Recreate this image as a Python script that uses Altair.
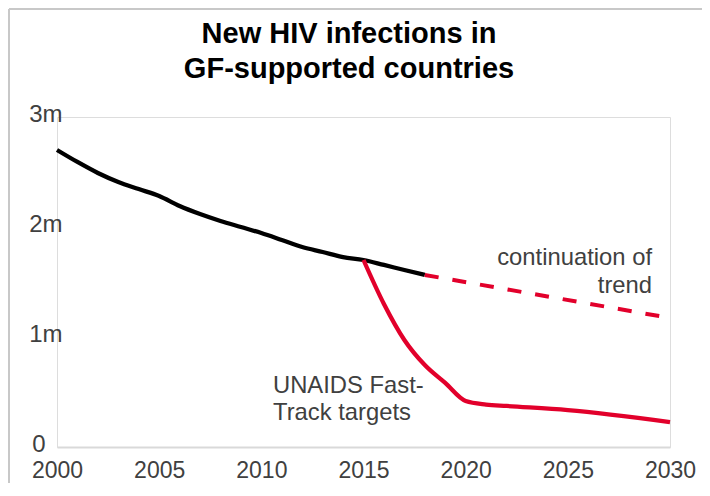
import altair as alt
import pandas as pd

# ---- data (values in millions) ----
hist_years = list(range(2000, 2019))
hist_values = [2.700, 2.591, 2.491, 2.409, 2.345, 2.282, 2.191, 2.118, 2.055, 2.000,
               1.945, 1.882, 1.818, 1.773, 1.727, 1.700, 1.655, 1.609, 1.564]
target_years = [2015, 2016, 2017, 2018, 2019, 2020, 2021, 2022, 2025, 2030]
target_values = [1.700, 1.300, 0.973, 0.745, 0.582, 0.418, 0.386, 0.373, 0.336, 0.227]
trend_years = [2018, 2030]
trend_values = [1.564, 1.173]

x_ticks = [2000, 2005, 2010, 2015, 2020, 2025, 2030]
y_ticks = [0, 1, 2, 3]
y_tick_labels = ["0", "1m", "2m", "3m"]
title_lines = ["New HIV infections in", "GF-supported countries"]
trend_label = ["continuation of", "trend"]
target_label = ["UNAIDS Fast-", "Track targets"]

FONT = "Liberation Sans"
RED = "#E2002B"
TXT = "#404040"
FRAME = "#c8c8c8"

hist = pd.DataFrame({"year": hist_years, "value": hist_values})
target = pd.DataFrame({"year": target_years, "value": target_values})
trend = pd.DataFrame({"year": trend_years, "value": trend_values})

label_expr = "[" + ",".join('"%s"' % s for s in y_tick_labels) + "][datum.value]"

x_enc = alt.X("year:Q",
              scale=alt.Scale(domain=[2000, 2030], nice=False, zero=False),
              axis=alt.Axis(values=x_ticks, format="d", title=None, grid=False, ticks=False,
                            domainColor="#d9d9d9", domainWidth=2,
                            labelFontSize=23, labelColor=TXT, labelFont=FONT,
                            labelPadding=12, labelFlush=False))
y_enc = alt.Y("value:Q",
              scale=alt.Scale(domain=[0, 3], nice=False),
              axis=alt.Axis(values=y_ticks, labelExpr=label_expr, title=None, grid=False,
                            ticks=False, domain=False,
                            labelFontSize=24, labelColor=TXT, labelFont=FONT,
                            labelAlign="right", labelOffset=-3,
                            labelPadding={"condition": {"test": "datum.value == 0", "value": 12},
                                          "value": -5}))

one = alt.Data(values=[{}])

# outer frame: only the top and left edges are visible in the reference
frame_top = alt.Chart(one).mark_rule(color=FRAME, strokeWidth=2).encode(
    x=alt.value(-48), x2=alt.value(700), y=alt.value(-108))
frame_left = alt.Chart(one).mark_rule(color=FRAME, strokeWidth=2).encode(
    x=alt.value(-48), y=alt.value(-108), y2=alt.value(500))

black = alt.Chart(hist).mark_line(color="black", strokeWidth=4.3, interpolate="monotone").encode(
    x=x_enc, y=y_enc)
red = alt.Chart(target).mark_line(color=RED, strokeWidth=4.3, interpolate="monotone").encode(
    x="year:Q", y="value:Q")
dashed = alt.Chart(trend).mark_line(color=RED, strokeWidth=4, strokeDash=[14, 14]).encode(
    x="year:Q", y="value:Q")

title1 = alt.Chart(one).mark_text(fontSize=29, fontWeight="bold", font=FONT, color="black",
                                  align="center", baseline="alphabetic").encode(
    x=alt.value(292), y=alt.value(-74), text=alt.value(title_lines[0]))
title2 = alt.Chart(one).mark_text(fontSize=29, fontWeight="bold", font=FONT, color="black",
                                  align="center", baseline="alphabetic").encode(
    x=alt.value(292), y=alt.value(-39), text=alt.value(title_lines[1]))

tr1 = alt.Chart(one).mark_text(fontSize=23.8, font=FONT, color=TXT, align="right", baseline="middle").encode(
    x=alt.datum(2029.12), y=alt.datum(1.718), text=alt.value(trend_label[0]))
tr2 = alt.Chart(one).mark_text(fontSize=23.8, font=FONT, color=TXT, align="right", baseline="middle").encode(
    x=alt.datum(2029.12), y=alt.datum(1.464), text=alt.value(trend_label[1]))
tg1 = alt.Chart(one).mark_text(fontSize=23.8, font=FONT, color=TXT, align="left", baseline="middle").encode(
    x=alt.datum(2010.57), y=alt.datum(0.555), text=alt.value(target_label[0]))
tg2 = alt.Chart(one).mark_text(fontSize=23.8, font=FONT, color=TXT, align="left", baseline="middle").encode(
    x=alt.datum(2010.57), y=alt.datum(0.309), text=alt.value(target_label[1]))

chart = alt.layer(frame_top, frame_left, black, red, dashed, title1, title2,
                  tr1, tr2, tg1, tg2).properties(
    width=613, height=330,
    padding={"left": 49, "top": 109, "right": 32, "bottom": 36},
    autosize=alt.AutoSizeParams(type="none"),
).configure_view(stroke=None).configure(background="white")

chart.save("out.html", embed_options={"renderer": "svg", "actions": False})
